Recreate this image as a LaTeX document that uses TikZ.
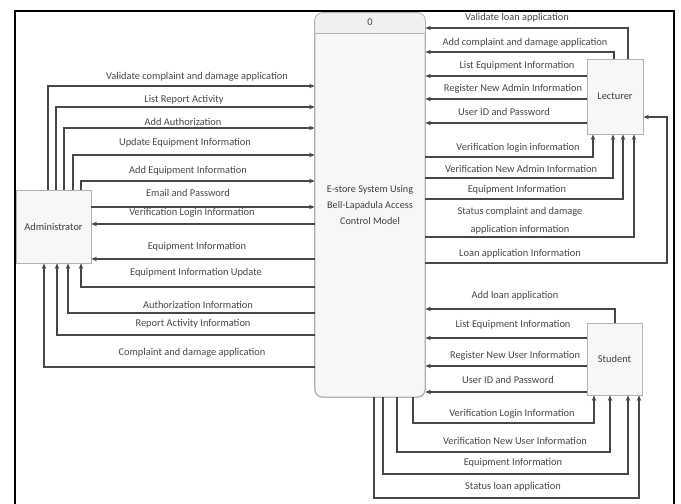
\documentclass[tikz,border=0pt]{standalone}
\usepackage{fontspec}
\setmainfont{Carlito}
\usetikzlibrary{arrows.meta}
\newcommand\lblfont{\fontsize{10.4}{11}\selectfont}
\begin{document}
\begin{tikzpicture}[x=1pt,y=-1pt,
  box/.style={draw=gray!60, line width=0.8pt, fill=gray!6, inner sep=0pt, font=\lblfont, text=black!75},
  arr/.style={draw=black!72, line width=1.2pt, -{Stealth[length=5.5pt,width=4.5pt]}},
  lbl/.style={inner sep=0pt, font=\lblfont, text=black!72}]
\useasboundingbox (0,0) rectangle (681,504);
\clip (0,0) rectangle (681,504);
% outer frame
\draw[line width=2.5pt] (15,520) |- (674,11) -- (674,520);

% process
\node[box, rounded corners=8pt, minimum width=110pt, minimum height=384pt, align=center,
      font=\fontsize{10.2}{16}\selectfont] (proc) at (370,205)
      {E-store System Using\\Bell-Lapadula Access\\Control Model};
\path[fill=gray!12] (proc.west |- 0,33) {[rounded corners=8pt] -- (proc.north west) -- (proc.north east)} -- (proc.east |- 0,33) -- cycle;
\draw[draw=gray!60, line width=0.8pt, rounded corners=8pt] (proc.south west) rectangle (proc.north east);
\draw[draw=gray!60, line width=0.8pt] (proc.west |- 0,33) -- (proc.east |- 0,33);
\node[lbl] (pnum) at (370,22) {0};

% externals
\node[box, minimum width=75pt, minimum height=73pt] (adm) at (53.5,226.5) {Administrator};
\node[box, minimum width=56pt, minimum height=75pt] (lec) at (615,96.5) {Lecturer};
\node[box, minimum width=55pt, minimum height=72pt] (stu) at (614.5,359) {Student};

% Administrator flows
\draw[arr] (adm.north -| 48,0) |- (proc.west |- 0,86);
\draw[arr] (adm.north -| 56,0) |- (proc.west |- 0,107);
\draw[arr] (adm.north -| 64,0) |- (proc.west |- 0,128);
\draw[arr] (adm.north -| 73,0) |- (proc.west |- 0,155);
\draw[arr] (adm.north -| 81,0) |- (proc.west |- 0,181);
\draw[arr] (adm.east |- 0,207) -- (proc.west |- 0,207);
\draw[arr] (proc.west |- 0,224) -- (adm.east |- 0,224);
\draw[arr] (proc.west |- 0,259) -- (adm.east |- 0,259);
\draw[arr] (proc.west |- 0,287) -| (adm.south -| 81,0);
\draw[arr] (proc.west |- 0,313) -| (adm.south -| 68,0);
\draw[arr] (proc.west |- 0,335) -| (adm.south -| 57,0);
\draw[arr] (proc.west |- 0,367) -| (adm.south -| 44,0);

\node[lbl] (a1) at (197,77) {Validate complaint and damage application};
\node[lbl] (a2) at (184,100) {List Report Activity};
\node[lbl] (a3) at (183,122) {Add Authorization};
\node[lbl] (a4) at (185,143) {Update Equipment Information};
\node[lbl] (a5) at (188,171) {Add Equipment Information};
\node[lbl] (a6) at (188,193) {Email and Password};
\node[lbl] (a7) at (192,213) {Verification Login Information};
\node[lbl] (a8) at (197,247) {Equipment Information};
\node[lbl] (a9) at (196,273) {Equipment Information Update};
\node[lbl] (a10) at (198,305) {Authorization Information};
\node[lbl] (a11) at (193,324) {Report Activity Information};
\node[lbl] (a12) at (192,353) {Complaint and damage application};

% Lecturer flows
\draw[arr] (lec.north -| 628,0) |- (proc.east |- 0,28);
\draw[arr] (lec.north -| 614,0) |- (proc.east |- 0,52);
\draw[arr] (lec.west |- 0,76) -- (proc.east |- 0,76);
\draw[arr] (lec.west |- 0,99) -- (proc.east |- 0,99);
\draw[arr] (lec.west |- 0,123) -- (proc.east |- 0,123);
\draw[arr] (proc.east |- 0,157) -| (lec.south -| 593,0);
\draw[arr] (proc.east |- 0,178) -| (lec.south -| 613,0);
\draw[arr] (proc.east |- 0,199) -| (lec.south -| 623,0);
\draw[arr] (proc.east |- 0,237) -| (lec.south -| 634,0);
\draw[arr] (proc.east |- 0,263) -- (667,263) |- (lec.east |- 0,117);

\node[lbl] (l1) at (517,18) {Validate loan application};
\node[lbl] (l2) at (525,43) {Add complaint and damage application};
\node[lbl] (l3) at (517,66) {List Equipment Information};
\node[lbl] (l4) at (513,89) {Register New Admin Information};
\node[lbl] (l5) at (504,112) {User ID and Password};
\node[lbl] (l6) at (518,148) {Verification login information};
\node[lbl] (l7) at (521,169) {Verification New Admin Information};
\node[lbl] (l8) at (517,190) {Equipment Information};
\node[lbl, align=center, font=\fontsize{10.4}{18}\selectfont] (l9) at (520,221) {Status complaint and damage\\application information};
\node[lbl] (l10) at (520,254) {Loan application Information};

% Student flows
\draw[arr] (stu.north -| 615,0) |- (proc.east |- 0,309);
\draw[arr] (stu.west |- 0,338) -- (proc.east |- 0,338);
\draw[arr] (stu.west |- 0,366) -- (proc.east |- 0,366);
\draw[arr] (stu.west |- 0,392) -- (proc.east |- 0,392);
\draw[arr] (proc.south -| 413,0) |- (594,423) -- (stu.south -| 594,0);
\draw[arr] (proc.south -| 397,0) |- (610,452) -- (stu.south -| 610,0);
\draw[arr] (proc.south -| 383,0) |- (628,474) -- (stu.south -| 628,0);
\draw[arr] (proc.south -| 374,0) |- (639,498) -- (stu.south -| 639,0);

\node[lbl] (s1) at (515,296) {Add loan application};
\node[lbl] (s2) at (513,325) {List Equipment Information};
\node[lbl] (s3) at (515,356) {Register New User Information};
\node[lbl] (s4) at (508,380) {User ID and Password};
\node[lbl] (s5) at (512,414) {Verification Login Information};
\node[lbl] (s6) at (515,441) {Verification New User Information};
\node[lbl] (s7) at (513,463) {Equipment Information};
\node[lbl] (s8) at (513,487) {Status loan application};
\end{tikzpicture}
\end{document}
